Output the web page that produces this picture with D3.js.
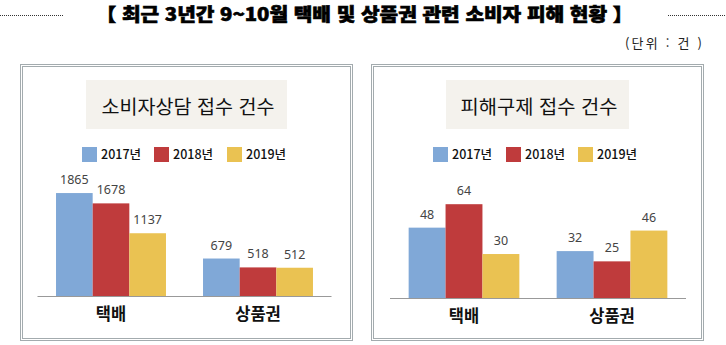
<!DOCTYPE html>
<html lang="ko">
<head>
<meta charset="utf-8">
<script src="https://cdn.jsdelivr.net/npm/d3@7"></script>
<style>
  html, body { margin: 0; padding: 0; background: #fff; }
  svg { display: block; }
</style>
</head>
<body>
<svg id="chart" width="726" height="345"></svg>
<script>
// 데이터
const categories = ["택배", "상품권"];
const years = ["2017년", "2018년", "2019년"];
const consultValues = [   // 소비자상담 접수 건수
  [1865, 1678, 1137],
  [679, 518, 512]
];
const reliefValues = [    // 피해구제 접수 건수
  [48, 64, 30],
  [32, 25, 46]
];
const mainTitle = "【 최근 3년간 9~10월 택배 및 상품권 관련 소비자 피해 현황 】";
const unitLabel = "(단위 : 건 )";
const panelTitles = ["소비자상담 접수 건수", "피해구제 접수 건수"];

const colors = ["#80a8d7", "#bf3b3c", "#eac252"];
const KR = "'Noto Sans CJK KR', 'Noto Sans', sans-serif";

const svg = d3.select("#chart");

// 상단 제목과 점선
svg.append("line").attr("x1", 0).attr("x2", 64).attr("y1", 15.5).attr("y2", 15.5)
  .attr("stroke", "#333").attr("stroke-dasharray", "1,1");
svg.append("line").attr("x1", 668).attr("x2", 726).attr("y1", 15.5).attr("y2", 15.5)
  .attr("stroke", "#333").attr("stroke-dasharray", "1,1");
svg.append("text")
  .attr("x", 96).attr("y", 21)
  .attr("textLength", 537).attr("lengthAdjust", "spacingAndGlyphs")
  .style("font-family", KR).style("font-weight", 900).style("font-size", "18px")
  .attr("fill", "#000").attr("stroke", "#000").attr("stroke-width", 0.6)
  .text(mainTitle);
svg.append("text")
  .attr("x", 625).attr("y", 48)
  .attr("textLength", 77).attr("lengthAdjust", "spacing")
  .style("font-family", KR).style("font-size", "13px").attr("fill", "#222")
  .text(unitLabel);

// 패널 설정
const panels = [
  {
    values: consultValues, max: 2000,
    box: [20, 64, 353, 341],
    titleBox: [86, 80, 287, 129], titleLen: 173,
    legendX: [82, 154, 227],
    axis: [37.5, 331.5], base: 296, top: 185.6, catY: 320
  },
  {
    values: reliefValues, max: 70,
    box: [371, 64, 704, 341],
    titleBox: [446, 80, 629, 129], titleLen: 157,
    legendX: [433, 506, 578],
    axis: [390, 686], base: 298, top: 195.4, catY: 322
  }
];

panels.forEach((p, pi) => {
  const g = svg.append("g");
  const [bx0, by0, bx1, by1] = p.box;

  // 이중 테두리
  [0.5, 2.5].forEach(o => {
    g.append("rect")
      .attr("x", bx0 + o).attr("y", by0 + o)
      .attr("width", bx1 - bx0 - 2 * o).attr("height", by1 - by0 - 2 * o)
      .attr("fill", "none").attr("stroke", "#a3abae").attr("stroke-width", 1);
  });

  // 패널 제목 상자
  const [tx0, ty0, tx1, ty1] = p.titleBox;
  g.append("rect").attr("x", tx0).attr("y", ty0)
    .attr("width", tx1 - tx0).attr("height", ty1 - ty0).attr("fill", "#f4f2ed");
  g.append("text")
    .attr("x", (tx0 + tx1) / 2 + 1.5).attr("y", 113.5).attr("text-anchor", "middle")
    .attr("textLength", p.titleLen).attr("lengthAdjust", "spacingAndGlyphs")
    .style("font-family", KR).style("font-size", "19px").attr("fill", "#111")
    .text(panelTitles[pi]);

  // 범례
  years.forEach((yr, i) => {
    g.append("rect").attr("x", p.legendX[i]).attr("y", 147)
      .attr("width", 15).attr("height", 15).attr("fill", colors[i]);
    g.append("text").attr("x", p.legendX[i] + 19).attr("y", 159)
      .style("font-family", KR).style("font-weight", 500).style("font-size", "12.5px")
      .attr("fill", "#111")
      .text(yr);
  });

  // 스케일
  const x0 = d3.scaleBand().domain(categories).range(p.axis)
    .paddingInner(0.252).paddingOuter(0.126);
  const x1 = d3.scaleBand().domain(years).range([0, x0.bandwidth()]);
  const y = d3.scaleLinear().domain([0, p.max]).range([p.base, p.top]);

  // 막대
  categories.forEach((cat, ci) => {
    const cg = g.append("g").attr("transform", `translate(${x0(cat)},0)`);
    cg.selectAll("rect").data(p.values[ci]).join("rect")
      .attr("x", (d, i) => x1(years[i]))
      .attr("y", d => y(d))
      .attr("width", x1.bandwidth())
      .attr("height", d => y(0) - y(d))
      .attr("fill", (d, i) => colors[i]);
    cg.selectAll("text").data(p.values[ci]).join("text")
      .attr("x", (d, i) => x1(years[i]) + x1.bandwidth() / 2)
      .attr("y", d => y(d) - 9)
      .attr("text-anchor", "middle")
      .style("font-family", "'Noto Sans', sans-serif").style("font-size", "12.5px")
      .attr("fill", "#444")
      .text(d => d);
  });

  // 기준선
  g.append("line").attr("x1", p.axis[0]).attr("x2", p.axis[1])
    .attr("y1", p.base + 0.5).attr("y2", p.base + 0.5)
    .attr("stroke", "#999").attr("stroke-width", 1.2);

  // 분류 라벨
  g.selectAll("text.cat").data(categories).join("text")
    .attr("class", "cat")
    .attr("x", d => x0(d) + x0.bandwidth() / 2)
    .attr("y", p.catY)
    .attr("text-anchor", "middle")
    .style("font-family", KR).style("font-weight", 700).style("font-size", "16.5px")
    .attr("fill", "#111")
    .text(d => d);
});
</script>
</body>
</html>
